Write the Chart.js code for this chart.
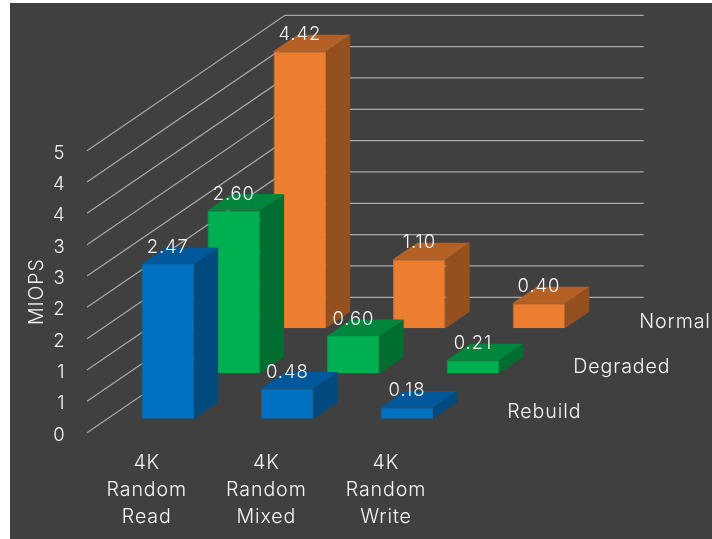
<!DOCTYPE html>
<html>
<head>
<meta charset="utf-8">
<title>MIOPS</title>
<script src="https://cdn.jsdelivr.net/npm/chart.js@4"></script>
<style>
    html, body { margin: 0; padding: 0; background: #ffffff; overflow: hidden; }
    canvas { display: block; }
</style>
</head>
<body>
<canvas id="iops-chart" width="712" height="539"></canvas>
<script>
// Chart values
var categories = [['4K', 'Random', 'Read'], ['4K', 'Random', 'Mixed'], ['4K', 'Random', 'Write']];
var seriesNames = ['Rebuild', 'Degraded', 'Normal'];
var rebuildValues = [2.47, 0.48, 0.18];
var degradedValues = [2.60, 0.60, 0.21];
var normalValues = [4.42, 1.10, 0.40];
var yTickLabels = ['0', '1', '1', '2', '2', '3', '3', '4', '4', '5'];

// Colours for each bar: front, side, top, front edge
var blue = ['#0070c0', '#004a80', '#00579a', '#0067b0'];
var green = ['#00b050', '#006e30', '#00853c', '#00a148'];
var orange = ['#ed7d31', '#94501e', '#b56024', '#d9722c'];

var fontFamily = 'Inter, sans-serif';
var textColor = '#f5f5f5';

// Depth of the fake 3D view, in pixels
var frontShift = { x: 21, y: 14 };
var rowShift = { x: 66, y: 45.2 };
var wallShift = { x: 198, y: 135.4 };
var barDepth = { x: 24, y: 16.5 };

function rowOffset(index) {
    return {
        x: frontShift.x + rowShift.x * index,
        y: frontShift.y + rowShift.y * index
    };
}

// Fill a four sided face
function drawFace(ctx, color, points) {
    ctx.fillStyle = color;
    ctx.beginPath();
    ctx.moveTo(points[0][0], points[0][1]);
    for (var i = 1; i < points.length; i++) {
        ctx.lineTo(points[i][0], points[i][1]);
    }
    ctx.closePath();
    ctx.fill();
}

var view3d = {
    id: 'view3d',
    beforeDraw: function(chart) {
        var ctx = chart.ctx;
        ctx.fillStyle = '#404040';
        ctx.fillRect(10, 3, chart.width - 10, chart.height - 3);
        ctx.letterSpacing = '0.9px';
    },
    // Side wall and back wall lines
    beforeDatasetsDraw: function(chart) {
        var ctx = chart.ctx;
        var xScale = chart.scales.x;
        var yScale = chart.scales.y;
        ctx.save();
        ctx.strokeStyle = '#a8a8a8';
        ctx.lineWidth = 1.2;
        yScale.ticks.forEach(function(tick, i) {
            var y = yScale.getPixelForTick(i);
            ctx.beginPath();
            ctx.moveTo(xScale.left, y);
            ctx.lineTo(xScale.left + wallShift.x, y - wallShift.y);
            ctx.lineTo(xScale.right + wallShift.x, y - wallShift.y);
            ctx.stroke();
        });
        ctx.restore();
    },
    // Push each row back and draw the side and top of its bars
    beforeDatasetDraw: function(chart, args) {
        var ctx = chart.ctx;
        var shift = rowOffset(args.index);
        var faces = chart.data.datasets[args.index].faces;
        ctx.save();
        ctx.translate(shift.x, -shift.y);
        args.meta.data.forEach(function(bar) {
            var left = bar.x - bar.width / 2;
            var right = bar.x + bar.width / 2;
            drawFace(ctx, faces[1], [
                [right, bar.y],
                [right + barDepth.x, bar.y - barDepth.y],
                [right + barDepth.x, bar.base - barDepth.y],
                [right, bar.base]
            ]);
            drawFace(ctx, faces[2], [
                [left, bar.y],
                [left + barDepth.x, bar.y - barDepth.y],
                [right + barDepth.x, bar.y - barDepth.y],
                [right, bar.y]
            ]);
        });
    },
    afterDatasetDraw: function(chart) {
        chart.ctx.restore();
    },
    // Value labels and row names go on top of everything
    afterDatasetsDraw: function(chart) {
        var ctx = chart.ctx;
        var xScale = chart.scales.x;
        var yScale = chart.scales.y;
        ctx.save();
        ctx.fillStyle = textColor;
        ctx.textBaseline = 'middle';
        chart.data.datasets.forEach(function(dataset, d) {
            var shift = rowOffset(d);
            ctx.textAlign = 'center';
            ctx.font = '300 18.5px ' + fontFamily;
            chart.getDatasetMeta(d).data.forEach(function(bar, i) {
                ctx.fillText(dataset.data[i].toFixed(2), bar.x + shift.x, bar.y - shift.y - 16.5);
            });
            ctx.textAlign = 'left';
            ctx.font = '300 19.6px ' + fontFamily;
            ctx.fillText(dataset.label, xScale.right + 61.5 + rowShift.x * d, yScale.bottom - 20.5 - rowShift.y * d);
        });
        ctx.restore();
    }
};

function makeDataset(name, values, faces) {
    return {
        label: name,
        data: values,
        faces: faces,
        backgroundColor: faces[0],
        borderColor: faces[3],
        borderWidth: 1,
        grouped: false,
        clip: false,
        barPercentage: 0.44,
        categoryPercentage: 1
    };
}

var numberFont = { family: fontFamily, size: 18.5, weight: '300' };
var wordFont = { family: fontFamily, size: 19.6, weight: '300', lineHeight: 1.37 };

var ctx = document.getElementById('iops-chart').getContext('2d');
window.iopsChart = new Chart(ctx, {
    type: 'bar',
    data: {
        labels: categories,
        datasets: [
            makeDataset(seriesNames[0], rebuildValues, blue),
            makeDataset(seriesNames[1], degradedValues, green),
            makeDataset(seriesNames[2], normalValues, orange)
        ]
    },
    plugins: [view3d],
    options: {
        responsive: false,
        animation: false,
        layout: {
            padding: { left: 0, top: 150.7, right: 266.25, bottom: 0 }
        },
        plugins: {
            legend: { display: false },
            tooltip: { enabled: false }
        },
        scales: {
            x: {
                grid: { display: false, drawTicks: false },
                border: { display: false },
                ticks: {
                    color: textColor,
                    font: wordFont,
                    padding: 17,
                    autoSkip: false,
                    maxRotation: 0
                },
                afterFit: function(scale) { scale.height = 106.3; }
            },
            y: {
                min: 0,
                max: 4.5,
                grid: { display: false, drawTicks: false },
                border: { display: false },
                ticks: {
                    stepSize: 0.5,
                    color: textColor,
                    font: numberFont,
                    padding: 21.5,
                    labelOffset: 2.5,
                    callback: function(value, index) { return yTickLabels[index]; }
                },
                title: {
                    display: true,
                    text: 'MIOPS',
                    color: textColor,
                    font: wordFont,
                    padding: { top: 24, bottom: 0 }
                },
                afterFit: function(scale) { scale.width = 87; }
            }
        }
    }
});
</script>
</body>
</html>
